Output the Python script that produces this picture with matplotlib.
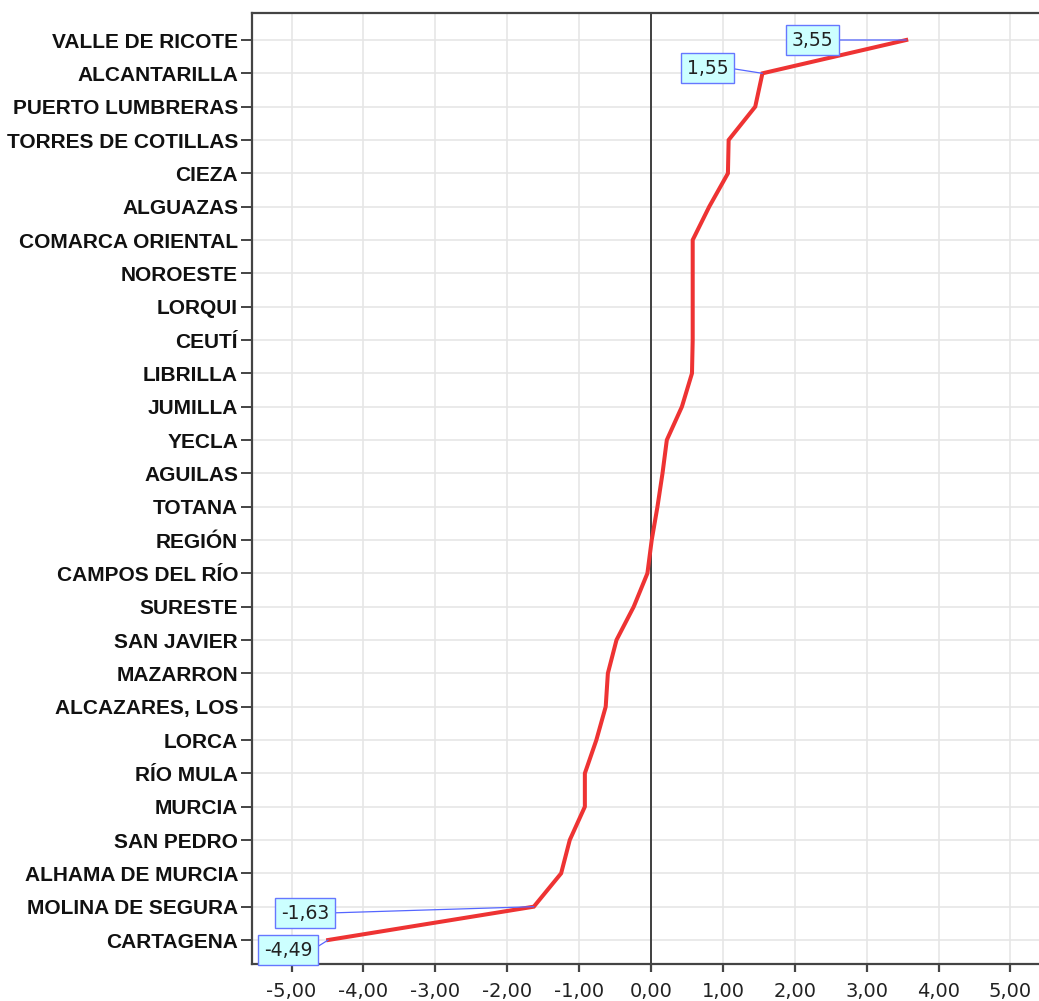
import numpy as np
import matplotlib.pyplot as plt
from matplotlib.ticker import FuncFormatter

# categories, top to bottom
zonas = ['VALLE DE RICOTE', 'ALCANTARILLA', 'PUERTO LUMBRERAS', 'TORRES DE COTILLAS',
         'CIEZA', 'ALGUAZAS', 'COMARCA ORIENTAL', 'NOROESTE', 'LORQUI', 'CEUTÍ',
         'LIBRILLA', 'JUMILLA', 'YECLA', 'AGUILAS', 'TOTANA', 'REGIÓN',
         'CAMPOS DEL RÍO', 'SURESTE', 'SAN JAVIER', 'MAZARRON', 'ALCAZARES, LOS',
         'LORCA', 'RÍO MULA', 'MURCIA', 'SAN PEDRO', 'ALHAMA DE MURCIA',
         'MOLINA DE SEGURA', 'CARTAGENA']
valores = [3.55, 1.55, 1.45, 1.08, 1.07, 0.81, 0.58, 0.58, 0.58, 0.58,
           0.57, 0.43, 0.22, 0.16, 0.09, 0.01, -0.05, -0.24, -0.48, -0.60,
           -0.63, -0.76, -0.92, -0.92, -1.13, -1.25, -1.63, -4.49]

# labelled points: (index, text position x, text position y)
etiquetas = [(0, 2.25, 0.0), (1, 0.79, 0.84), (26, -4.81, 26.19), (27, -5.05, 27.3)]

plt.rcParams['font.family'] = ['Liberation Sans', 'DejaVu Sans']

fig = plt.figure(figsize=(10.39, 10.01), dpi=100)
ax = fig.add_axes([252/1039, 37/1001, 798/1039, 951/1001])

y = np.arange(len(zonas))
ax.plot(valores, y, color='#ee3333', lw=2.9, zorder=3, solid_joinstyle='miter')

ax.set_xlim(-5.55, 5.55)
ax.set_ylim(27.72, -0.81)
ax.set_xticks(np.arange(-5, 6, 1))
ax.xaxis.set_major_formatter(FuncFormatter(lambda v, p: f'{v:.2f}'.replace('.', ',')))
ax.set_yticks(y)
ax.set_yticklabels(zonas, fontweight='bold', fontsize=15, color='#111111')

ax.grid(True, color='#e6e6e6', lw=1.2, zorder=0)
ax.axvline(0, color='#333333', lw=1.3, zorder=2)

for s in ['left', 'bottom', 'top', 'right']:
    ax.spines[s].set_color('#444444')
    ax.spines[s].set_linewidth(1.6)
ax.tick_params(axis='x', length=6, width=1.6, color='#444444', labelsize=14, pad=7,
               labelcolor='#222222')
ax.tick_params(axis='y', length=8, width=1.4, color='#444444', pad=2)
for t in ax.get_xticklabels():
    t.set_family('DejaVu Sans')

for i, tx, ty in etiquetas:
    ax.annotate(f'{valores[i]:.2f}'.replace('.', ','), xy=(valores[i], i), xytext=(tx, ty),
                ha='center', va='center', fontsize=13.5, color='#222222', zorder=5,
                family='DejaVu Sans',
                bbox=dict(boxstyle='square,pad=0.3', fc='#ccffff', ec='#6677ff', lw=1),
                arrowprops=dict(arrowstyle='-', color='#5566ff', lw=0.9,
                                shrinkA=0, shrinkB=0, relpos=(1, 0.5)))

fig.savefig('out.png', dpi=100)
